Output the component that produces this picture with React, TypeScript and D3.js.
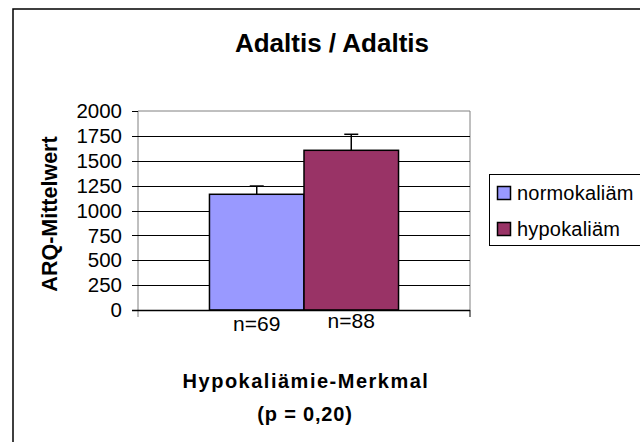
import React, { useEffect } from 'react';
import * as d3 from 'd3';

const categories = ['Hypokaliämie-Merkmal'];
const seriesNames = ['normokaliäm', 'hypokaliäm'];
const seriesColors = ['#9999ff', '#993366'];
const means = [1163, 1605];
const errors = [83, 161];
const nLabels = ['n=69', 'n=88'];
const yTicks = [0, 250, 500, 750, 1000, 1250, 1500, 1750, 2000];

const W = 640;
const H = 442;
const plot = { left: 138, right: 470, top: 111, bottom: 310 };
const FONT = 'Arial, "Liberation Sans", sans-serif';

const App = () => {
    useEffect(() => {
        document.body.style.margin = '0';
    }, []);

    const y = d3.scaleLinear([0, 2000], [plot.bottom, plot.top]);
    const xCat = d3
        .scaleBand<string>()
        .domain(categories)
        .range([plot.left, plot.right])
        .paddingInner(0)
        .paddingOuter(0.378);
    const xSer = d3
        .scaleBand<string>()
        .domain(seriesNames)
        .range([0, xCat.bandwidth()]);

    const catX = xCat(categories[0]) ?? 0;

    return (
        <svg width={W} height={H} style={{ display: 'block', background: '#fff' }} fontFamily={FONT}>
            {/* outer chart frame, runs off the picture to the right and below */}
            <rect x={13} y={9} width={700} height={500} fill='#fff' stroke='#000' strokeWidth={1.5} />

            <text x={332} y={52} textAnchor='middle' fontSize={26} fontWeight='bold'>
                Adaltis / Adaltis
            </text>

            {/* plot area frame */}
            <line x1={plot.left} x2={plot.right} y1={plot.top} y2={plot.top} stroke='#808080' />
            <line x1={plot.right} x2={plot.right} y1={plot.top} y2={plot.bottom} stroke='#808080' />
            <line x1={plot.left} x2={plot.left} y1={plot.top} y2={plot.bottom + 7} stroke='#808080' />

            {/* gridlines + ticks */}
            {yTicks.map(t => (
                <g key={t}>
                    {t > 0 && t < 2000 && (
                        <line x1={plot.left} x2={plot.right} y1={Math.round(y(t)) + 0.5} y2={Math.round(y(t)) + 0.5} stroke='#000' />
                    )}
                    <line x1={plot.left - 6} x2={plot.left} y1={Math.round(y(t)) + 0.5} y2={Math.round(y(t)) + 0.5} stroke='#000' />
                    <text x={122} y={y(t)} dy='0.35em' textAnchor='end' fontSize={20.5}>
                        {t}
                    </text>
                </g>
            ))}

            {/* bars */}
            {seriesNames.map((s, i) => {
                const bx = catX + (xSer(s) ?? 0);
                const bw = xSer.bandwidth();
                const cx = bx + bw / 2;
                return (
                    <g key={s}>
                        <line x1={cx} x2={cx} y1={y(means[i])} y2={y(means[i] + errors[i])} stroke='#000' strokeWidth={1.5} />
                        <line x1={cx - 7} x2={cx + 7} y1={y(means[i] + errors[i])} y2={y(means[i] + errors[i])} stroke='#000' strokeWidth={1.5} />
                        <rect
                            x={bx}
                            y={y(means[i])}
                            width={bw}
                            height={y(0) - y(means[i])}
                            fill={seriesColors[i]}
                            stroke='#000'
                            strokeWidth={1.5}
                        />
                        <text x={cx} y={331 - i * 3} textAnchor='middle' fontSize={21}>
                            {nLabels[i]}
                        </text>
                    </g>
                );
            })}

            {/* x axis */}
            <line x1={plot.left - 6} x2={plot.right} y1={plot.bottom + 0.5} y2={plot.bottom + 0.5} stroke='#000' strokeWidth={1.5} />
            <line x1={plot.right} x2={plot.right} y1={plot.bottom} y2={plot.bottom + 7} stroke='#000' />

            <text
                transform={`translate(57, 214) rotate(-90)`}
                textAnchor='middle'
                fontSize={21.5}
                fontWeight='bold'
            >
                ARQ-Mittelwert
            </text>

            <text x={306} y={388} textAnchor='middle' fontSize={20} fontWeight='bold' letterSpacing={1.5}>
                {categories[0]}
            </text>
            <text x={305} y={421} textAnchor='middle' fontSize={20} fontWeight='bold' letterSpacing={0.8}>
                (p = 0,20)
            </text>

            {/* legend */}
            <rect x={489.5} y={174.5} width={200} height={71} fill='#fff' stroke='#000' />
            {seriesNames.map((s, i) => (
                <g key={s} transform={`translate(497, ${193 + i * 36})`}>
                    <rect x={0.5} y={-6.5} width={13} height={13} fill={seriesColors[i]} stroke='#000' strokeWidth={1.5} />
                    <text x={20} y={0} dy='0.35em' fontSize={20} letterSpacing={0.2}>
                        {s}
                    </text>
                </g>
            ))}
        </svg>
    );
};

export default App;
